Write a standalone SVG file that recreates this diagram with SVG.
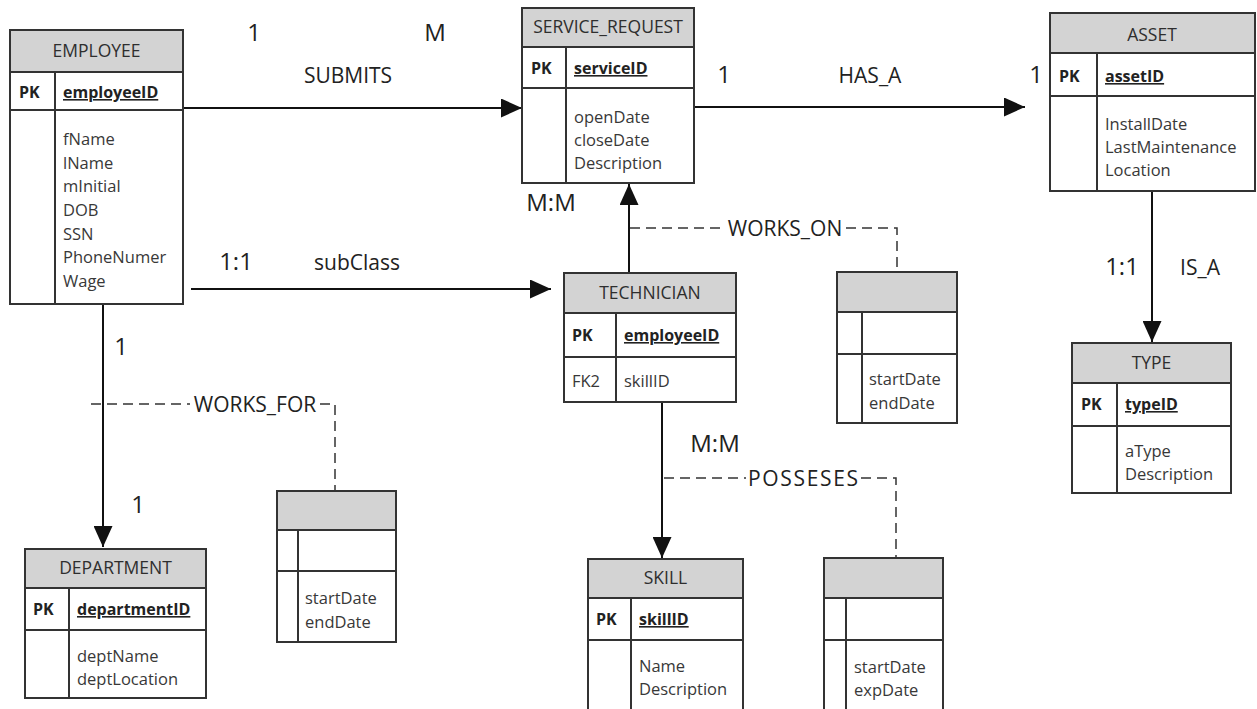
<svg xmlns="http://www.w3.org/2000/svg" width="1257" height="709" viewBox="0 0 1257 709">
<style>
.box{fill:#fff;stroke:#333;stroke-width:2}
.hdr{fill:#d3d3d3;stroke:#333;stroke-width:2}
.ln{stroke:#333;stroke-width:2;fill:none}
text{font-family:"Open Sans","Liberation Sans",sans-serif;fill:#383838}
.title{font-size:17.5px;text-anchor:middle;fill:#2e2e2e}
.attr{font-size:16.5px}
.pk{font-size:16px;font-weight:bold;fill:#222}
.key{font-size:16px;font-weight:bold;text-decoration:underline;fill:#222}
.lbl{font-size:21px;text-anchor:middle;fill:#222}
.card{font-size:24px;text-anchor:middle;fill:#222}
.conn{stroke:#111;stroke-width:2;fill:none}
.dash{stroke:#333;stroke-width:1.5;fill:none;stroke-dasharray:10 6}
</style>
<defs>
<marker id="arr" markerUnits="userSpaceOnUse" markerWidth="21" markerHeight="19" refX="21" refY="9.5" orient="auto">
<path d="M0,0 L21,9.5 L0,19 z" fill="#111"/>
</marker>
</defs>
<rect width="1257" height="709" fill="#fff"/>

<g id="connectors">
<line class="conn" x1="183" y1="108" x2="522" y2="108" marker-end="url(#arr)"/>
<line class="conn" x1="694" y1="107" x2="1025" y2="107" marker-end="url(#arr)"/>
<line class="conn" x1="191" y1="289" x2="551" y2="289" marker-end="url(#arr)"/>
<line class="conn" x1="103" y1="304" x2="103" y2="547" marker-end="url(#arr)"/>
<line class="conn" x1="629" y1="273" x2="629" y2="184" marker-end="url(#arr)"/>
<line class="conn" x1="662" y1="402" x2="662" y2="558" marker-end="url(#arr)"/>
<line class="conn" x1="1152" y1="191" x2="1152" y2="342" marker-end="url(#arr)"/>
<path class="dash" d="M91,404 H190"/>
<path class="dash" d="M320,404 H335 V491"/>
<path class="dash" d="M630,228 H724"/>
<path class="dash" d="M846,228 H897 V272"/>
<path class="dash" d="M664,478 H746"/>
<path class="dash" d="M861,478 H896 V558"/>
<text class="card" x="254" y="41">1</text>
<text class="card" x="435" y="41">M</text>
<text class="lbl" x="348" y="83">SUBMITS</text>
<text class="card" x="724" y="83">1</text>
<text class="lbl" x="870" y="83">HAS_A</text>
<text class="card" x="1036" y="83">1</text>
<text class="card" x="236" y="270">1:1</text>
<text class="lbl" x="357" y="270">subClass</text>
<text class="card" x="121" y="355">1</text>
<text class="card" x="138" y="513">1</text>
<text class="lbl" x="255" y="412">WORKS_FOR</text>
<text class="card" x="551" y="211">M:M</text>
<text class="lbl" x="785" y="236">WORKS_ON</text>
<text class="card" x="715" y="452">M:M</text>
<text class="lbl" x="803" y="486" textLength="110">POSSESES</text>
<text class="card" x="1122" y="275">1:1</text>
<text class="lbl" x="1200" y="275">IS_A</text>
</g>

<g id="employee">
<rect class="box" x="10" y="30" width="173" height="274"/>
<rect class="hdr" x="10" y="30" width="173" height="42"/>
<line class="ln" x1="10" y1="110" x2="183" y2="110"/>
<line class="ln" x1="55" y1="72" x2="55" y2="304"/>
<text class="title" x="96.5" y="57">EMPLOYEE</text>
<text class="pk" x="19" y="98">PK</text>
<text class="key" x="63" y="98">employeeID</text>
<text class="attr" x="63" y="145">fName</text>
<text class="attr" x="63" y="169">lName</text>
<text class="attr" x="63" y="192">mInitial</text>
<text class="attr" x="63" y="216">DOB</text>
<text class="attr" x="63" y="240">SSN</text>
<text class="attr" x="63" y="263">PhoneNumer</text>
<text class="attr" x="63" y="287">Wage</text>
</g>

<g id="service_request">
<rect class="box" x="522" y="8" width="172" height="175"/>
<rect class="hdr" x="522" y="8" width="172" height="39"/>
<line class="ln" x1="522" y1="88" x2="694" y2="88"/>
<line class="ln" x1="566" y1="47" x2="566" y2="183"/>
<text class="title" x="608" y="33">SERVICE_REQUEST</text>
<text class="pk" x="531" y="74">PK</text>
<text class="key" x="574" y="74">serviceID</text>
<text class="attr" x="574" y="123">openDate</text>
<text class="attr" x="574" y="146">closeDate</text>
<text class="attr" x="574" y="169">Description</text>
</g>

<g id="asset">
<rect class="box" x="1050" y="13" width="205" height="178"/>
<rect class="hdr" x="1050" y="13" width="205" height="40"/>
<line class="ln" x1="1050" y1="96" x2="1255" y2="96"/>
<line class="ln" x1="1097" y1="53" x2="1097" y2="191"/>
<text class="title" x="1152" y="41">ASSET</text>
<text class="pk" x="1059" y="82">PK</text>
<text class="key" x="1105" y="82">assetID</text>
<text class="attr" x="1105" y="130">InstallDate</text>
<text class="attr" x="1105" y="153">LastMaintenance</text>
<text class="attr" x="1105" y="176">Location</text>
</g>

<g id="technician">
<rect class="box" x="564" y="273" width="172" height="129"/>
<rect class="hdr" x="564" y="273" width="172" height="40"/>
<line class="ln" x1="564" y1="357" x2="736" y2="357"/>
<line class="ln" x1="616" y1="313" x2="616" y2="402"/>
<text class="title" x="650" y="299">TECHNICIAN</text>
<text class="pk" x="572" y="341">PK</text>
<text class="key" x="624" y="341">employeeID</text>
<text class="attr" x="572" y="387">FK2</text>
<text class="attr" x="624" y="387">skillID</text>
</g>

<g id="department">
<rect class="box" x="25" y="549" width="181" height="149"/>
<rect class="hdr" x="25" y="549" width="181" height="39"/>
<line class="ln" x1="25" y1="630" x2="206" y2="630"/>
<line class="ln" x1="69" y1="588" x2="69" y2="698"/>
<text class="title" x="115.5" y="574">DEPARTMENT</text>
<text class="pk" x="33" y="615">PK</text>
<text class="key" x="77" y="615">departmentID</text>
<text class="attr" x="77" y="662">deptName</text>
<text class="attr" x="77" y="685">deptLocation</text>
</g>

<g id="skill">
<rect class="box" x="588" y="559" width="155" height="165"/>
<rect class="hdr" x="588" y="559" width="155" height="39"/>
<line class="ln" x1="588" y1="640" x2="743" y2="640"/>
<line class="ln" x1="631" y1="598" x2="631" y2="724"/>
<text class="title" x="665.5" y="584">SKILL</text>
<text class="pk" x="596" y="625">PK</text>
<text class="key" x="639" y="625">skillID</text>
<text class="attr" x="639" y="672">Name</text>
<text class="attr" x="639" y="695">Description</text>
</g>

<g id="type">
<rect class="box" x="1072" y="343" width="159" height="150"/>
<rect class="hdr" x="1072" y="343" width="159" height="40"/>
<line class="ln" x1="1072" y1="426" x2="1231" y2="426"/>
<line class="ln" x1="1117" y1="383" x2="1117" y2="493"/>
<text class="title" x="1151.5" y="369">TYPE</text>
<text class="pk" x="1081" y="410">PK</text>
<text class="key" x="1125" y="410">typeID</text>
<text class="attr" x="1125" y="457">aType</text>
<text class="attr" x="1125" y="480">Description</text>
</g>

<g id="works_for_table">
<rect class="box" x="277" y="491" width="119" height="151"/>
<rect class="hdr" x="277" y="491" width="119" height="39"/>
<line class="ln" x1="277" y1="571" x2="396" y2="571"/>
<line class="ln" x1="298" y1="530" x2="298" y2="642"/>
<text class="attr" x="305" y="604">startDate</text>
<text class="attr" x="305" y="628">endDate</text>
</g>

<g id="works_on_table">
<rect class="box" x="837" y="272" width="120" height="151"/>
<rect class="hdr" x="837" y="272" width="120" height="40"/>
<line class="ln" x1="837" y1="354" x2="957" y2="354"/>
<line class="ln" x1="862" y1="312" x2="862" y2="423"/>
<text class="attr" x="869" y="385">startDate</text>
<text class="attr" x="869" y="409">endDate</text>
</g>

<g id="posseses_table">
<rect class="box" x="824" y="558" width="119" height="166"/>
<rect class="hdr" x="824" y="558" width="119" height="40"/>
<line class="ln" x1="824" y1="640" x2="943" y2="640"/>
<line class="ln" x1="846" y1="598" x2="846" y2="724"/>
<text class="attr" x="854" y="673">startDate</text>
<text class="attr" x="854" y="696">expDate</text>
</g>
</svg>
